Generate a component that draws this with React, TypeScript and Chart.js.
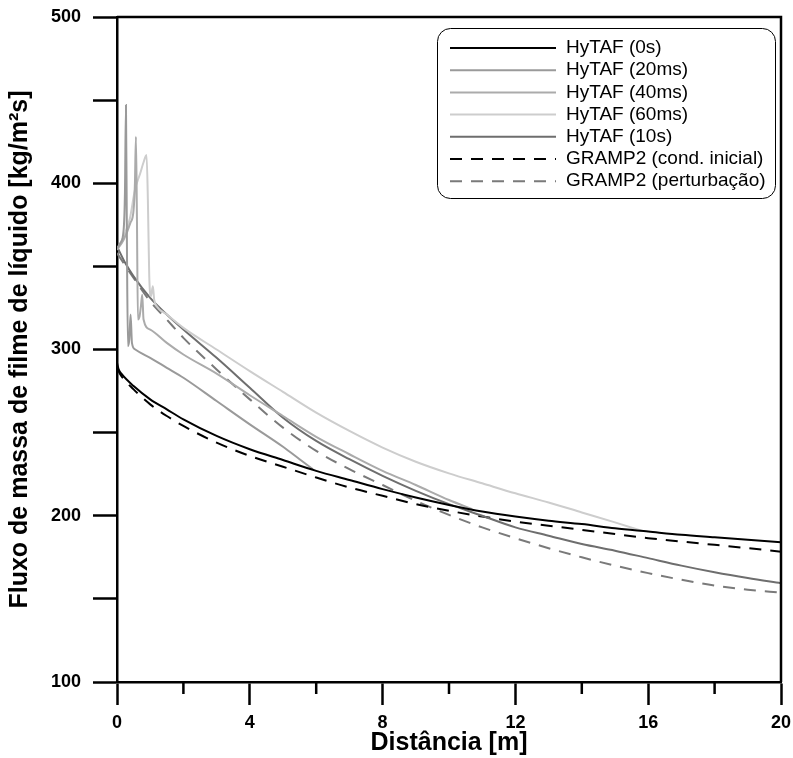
import React, { useEffect, useRef } from "react";
import { Chart, registerables } from "chart.js";

Chart.register(...registerables);

const FONT = 'Helvetica, Arial, "Liberation Sans", sans-serif';

// Axis ticks
const xMajorTicks = [0, 4, 8, 12, 16, 20];
const xMinorTicks = [2, 6, 10, 14, 18];
const yLabelTicks = [100, 200, 300, 400, 500];

// HyTAF (0s)
const x0s = [0, 0.05, 0.15, 0.5, 1, 1.5, 2, 3, 4, 5, 6, 7, 8, 9, 10, 11, 12, 13, 14, 15, 16, 17, 18, 19, 20];
const y0s = [292, 288, 285, 278, 270, 264, 258, 248, 240, 233.5, 227, 221.5, 216, 211, 206.5, 202.5, 199.5, 197, 195, 192.5, 190.5, 188.5, 187, 185.5, 184];

// HyTAF (20ms)
const x20ms = [0, 0.1, 0.2, 0.24, 0.27, 0.3, 0.33, 0.37, 0.41, 0.45, 0.55, 0.8, 1, 1.5, 2, 3, 4, 5, 5.5, 5.9];
const y20ms = [361, 364, 372, 395, 447, 360, 302, 306, 321, 304, 300, 297, 295, 289, 283, 269, 255, 241.5, 234, 228];

// HyTAF (40ms)
const x40ms = [0, 0.2, 0.4, 0.5, 0.54, 0.57, 0.6, 0.63, 0.68, 0.72, 0.76, 0.8, 1, 1.5, 2, 3, 4, 5, 6, 7, 8, 9, 10, 10.7];
const y40ms = [360, 366, 376, 384, 400, 428, 380, 318, 320, 326, 333, 318, 312, 304, 297, 285.5, 272.5, 260, 247.5, 237, 227, 218.5, 209.5, 204];

// HyTAF (60ms)
const x60ms = [0, 0.2, 0.39, 0.54, 0.7, 0.79, 0.89, 0.93, 0.97, 1.02, 1.08, 1.12, 1.2, 1.5, 2, 3, 4, 5, 6, 7, 8, 9, 10, 11, 12, 13, 14, 15, 15.8];
const y60ms = [360, 368, 379, 396, 406, 412, 417, 390, 345, 332, 338, 330, 326, 321, 313, 300, 287, 274.5, 262, 251, 241, 232.5, 225.5, 219.5, 213.5, 208, 202, 196, 191];

// HyTAF (10s)
const x10s = [0, 0.25, 0.5, 1, 1.5, 2, 3, 4, 5, 6, 7, 8, 9, 10, 11, 12, 13, 14, 15, 16, 17, 18, 19, 20];
const y10s = [362, 352, 344, 331, 321, 312, 295, 277, 259, 245, 234, 224, 215, 207, 200, 193, 188, 183, 179, 174.5, 170, 166, 162.5, 159.4];

// GRAMP2 (cond. inicial)
const xGrampInit = [0, 0.1, 0.5, 1, 1.5, 2, 3, 4, 5, 6, 7, 8, 9, 10, 11, 12, 13, 14, 15, 16, 17, 18, 19, 20];
const yGrampInit = [289, 285, 276, 267, 260, 254, 244, 236, 229.5, 223, 217, 212, 207, 203, 199.5, 196.5, 194, 191.5, 189, 186.5, 184.5, 182.5, 180.5, 178.4];

// GRAMP2 (perturbação)
const xGrampPert = [0, 0.5, 1, 1.5, 2, 3, 4, 5, 6, 7, 8, 9, 10, 11, 12, 13, 14, 15, 16, 17, 18, 19, 20];
const yGrampPert = [358, 343, 329, 318, 307, 288, 270, 253, 239, 228, 218.5, 209, 200.5, 193, 186.5, 180.5, 175, 170, 165.5, 161.5, 158, 155.5, 153.7];

const seriesLabels = [
  "HyTAF (0s)",
  "HyTAF (20ms)",
  "HyTAF (40ms)",
  "HyTAF (60ms)",
  "HyTAF (10s)",
  "GRAMP2 (cond. inicial)",
  "GRAMP2 (perturbação)",
];

const pts = (xs: number[], ys: number[]) => xs.map((x, i) => ({ x, y: ys[i] }));

export default function App() {
  const ref = useRef<HTMLCanvasElement | null>(null);

  useEffect(() => {
    if (!ref.current) return;

    const framePlugin = {
      id: "frame",
      afterDraw(chart: any) {
        const { ctx, chartArea } = chart;
        const xs = chart.scales.x;
        ctx.save();
        ctx.strokeStyle = "#000";
        ctx.lineWidth = 2.5;
        ctx.beginPath();
        ctx.moveTo(chartArea.left, chartArea.top);
        ctx.lineTo(chartArea.right, chartArea.top);
        ctx.lineTo(chartArea.right, chartArea.bottom);
        ctx.stroke();
        ctx.beginPath();
        xMinorTicks.forEach((v) => {
          const px = xs.getPixelForValue(v);
          ctx.moveTo(px, chartArea.bottom);
          ctx.lineTo(px, chartArea.bottom + 12);
        });
        ctx.stroke();
        ctx.restore();
      },
    };

    const legendPlugin = {
      id: "boxLegend",
      afterDraw(chart: any) {
        const { ctx, chartArea } = chart;
        const bx = chartArea.right - 344;
        const by = chartArea.top + 11;
        const bw = 338;
        const bh = 170;
        ctx.save();
        ctx.fillStyle = "#fff";
        ctx.strokeStyle = "#000";
        ctx.lineWidth = 1;
        ctx.beginPath();
        (ctx as any).roundRect(bx + 0.5, by + 0.5, bw, bh, 13);
        ctx.fill();
        ctx.stroke();
        ctx.font = `19px ${FONT}`;
        ctx.textBaseline = "middle";
        ctx.textAlign = "left";
        chart.data.datasets.forEach((ds: any, i: number) => {
          const y = by + 20 + i * 22.2;
          ctx.strokeStyle = ds.borderColor;
          ctx.lineWidth = ds.borderWidth;
          ctx.setLineDash(ds.borderDash || []);
          ctx.beginPath();
          ctx.moveTo(bx + 13, y);
          ctx.lineTo(bx + 119, y);
          ctx.stroke();
          ctx.setLineDash([]);
          ctx.fillStyle = "#000";
          ctx.fillText(ds.label, bx + 129, y);
        });
        ctx.restore();
      },
    };

    const mk = (i: number, xs: number[], ys: number[], color: string, dash: number[] = []) => ({
      label: seriesLabels[i],
      data: pts(xs, ys),
      borderColor: color,
      backgroundColor: color,
      borderWidth: 2,
      borderDash: dash,
      pointRadius: 0,
      fill: false,
      cubicInterpolationMode: "monotone" as const,
    });

    const chart = new Chart(ref.current, {
      type: "line",
      data: {
        datasets: [
          mk(0, x0s, y0s, "#000000"),
          mk(1, x20ms, y20ms, "#9a9a9a"),
          mk(2, x40ms, y40ms, "#ababab"),
          mk(3, x60ms, y60ms, "#cdcdcd"),
          mk(4, x10s, y10s, "#6e6e6e"),
          mk(5, xGrampInit, yGrampInit, "#000000", [12, 9]),
          mk(6, xGrampPert, yGrampPert, "#7a7a7a", [12, 9]),
        ],
      },
      options: {
        animation: false,
        responsive: true,
        maintainAspectRatio: false,
        layout: { padding: { top: 17, right: 12, left: 0, bottom: 0 } },
        plugins: { legend: { display: false }, tooltip: { enabled: false } },
        scales: {
          x: {
            type: "linear",
            min: 0,
            max: 20,
            afterFit: (s: any) => {
              s.height = 76;
              s.paddingLeft = 0;
              s.paddingRight = 0;
            },
            afterBuildTicks: (s: any) => { s.ticks = xMajorTicks.map((v) => ({ value: v })); },
            border: { display: true, color: "#000", width: 2.5 },
            grid: { drawOnChartArea: false, drawTicks: true, tickLength: 23, tickWidth: 2.5, tickColor: "#000" },
            ticks: { color: "#000", padding: 7, font: { family: FONT, size: 18, weight: "bold" } },
            title: {
              display: true,
              text: "Distância [m]",
              color: "#000",
              font: { family: FONT, size: 25, weight: "bold" },
              padding: { top: 0, bottom: 0 },
            },
          },
          y: {
            type: "linear",
            min: 100,
            max: 500,
            afterFit: (s: any) => {
              s.width = 117;
              s.paddingTop = 0;
              s.paddingBottom = 0;
            },
            ticks: {
              stepSize: 50,
              color: "#000",
              padding: 12,
              font: { family: FONT, size: 18, weight: "bold" },
              callback: (v: any) => (yLabelTicks.includes(Number(v)) ? String(v) : ""),
            },
            border: { display: true, color: "#000", width: 2.5 },
            grid: { drawOnChartArea: false, drawTicks: true, tickLength: 24, tickWidth: 2.5, tickColor: "#000" },
            title: {
              display: true,
              text: "Fluxo de massa de filme de líquido [kg/m²s]",
              color: "#000",
              font: { family: FONT, size: 25, weight: "bold" },
              padding: { top: 5, bottom: 0 },
            },
          },
        },
      },
      plugins: [framePlugin, legendPlugin],
    });

    return () => chart.destroy();
  }, []);

  return (
    <div style={{ position: "fixed", left: 0, top: 0, width: 793, height: 758, background: "#fff" }}>
      <canvas ref={ref} />
    </div>
  );
}
